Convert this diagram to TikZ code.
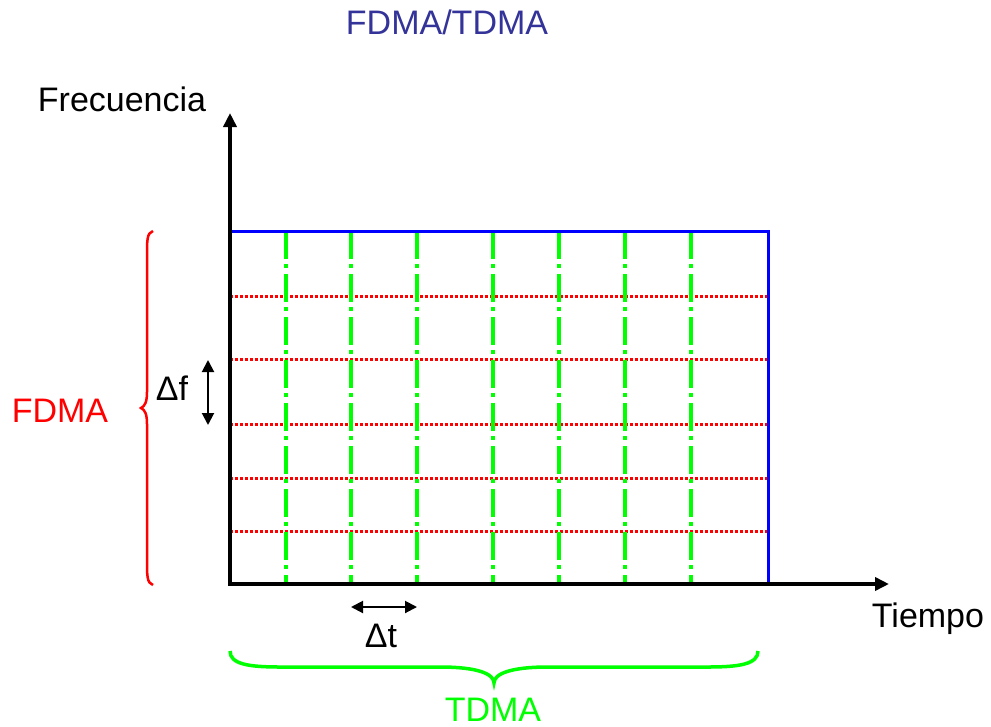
\documentclass[tikz,border=0pt]{standalone}
\usepackage{fontspec}
\setmainfont{Liberation Sans}
\usetikzlibrary{arrows.meta}
\definecolor{titleblue}{RGB}{51,51,153}
\definecolor{gridgreen}{RGB}{0,255,0}
\definecolor{gridred}{RGB}{255,0,0}
\definecolor{boxblue}{RGB}{0,0,255}
\tikzset{
  lbl/.style={inner sep=0pt, anchor=base, font=\fontsize{34}{40}\selectfont},
  axisline/.style={line width=4pt, -{Triangle[length=14pt,width=13pt]}},
  redgrid/.style={gridred, line width=3pt, dash pattern=on 3pt off 2pt},
  greengrid/.style={gridgreen, line width=3.5pt, dash pattern=on 28pt off 5pt on 4pt off 6pt},
  dimarrow/.style={line width=2pt, {Triangle[length=12pt,width=12pt]}-{Triangle[length=12pt,width=12pt]}},
}
\begin{document}
\begin{tikzpicture}[x=1pt,y=-1pt]
\useasboundingbox (0,0) rectangle (991,726);
% coordinates
\coordinate (O) at (230,584);
\coordinate (ytip) at (230,113);
\coordinate (xtip) at (889,584);
\coordinate (TL) at (230,231);
\coordinate (TR) at (768,231);
\coordinate (BR) at (768,584);
% red dotted horizontal lines
\foreach \y [count=\i] in {296,359,424,478,531}{
  \coordinate (hl\i) at (230,\y);
  \coordinate (hr\i) at (768,\y);
  \draw[redgrid] (hl\i) -- (hr\i);
}
% green dash-dot vertical lines
\foreach \x [count=\i] in {286,351,417,493,559,625,691}{
  \coordinate (vt\i) at (\x,231);
  \coordinate (vb\i) at (\x,584);
  \draw[greengrid] (vt\i) -- (vb\i);
}
% blue frame
\draw[boxblue, line width=3pt] (TL) -- (TR) -- (BR);
% axes
\draw[axisline] (O) -- (ytip);
\draw[axisline] (228,584) -- (xtip);
% red brace
\coordinate (rb1) at (153,231);
\coordinate (rb2) at (153,585);
\coordinate (rbt) at (141,408);
\draw[gridred, line width=2.5pt] (rb1) .. controls (147,233) and (147,240) .. (147,255)
  -- (147,392) .. controls (147,402) and (145,406) .. (rbt)
  .. controls (145,410) and (147,414) .. (147,424)
  -- (147,561) .. controls (147,576) and (147,583) .. (rb2);
% green brace
\coordinate (gb1) at (230,651);
\coordinate (gb2) at (758,651);
\coordinate (gbt) at (494,683);
\draw[gridgreen, line width=3.5pt] (gb1) .. controls (230,664) and (248,667) .. (280,667)
  -- (440,667) .. controls (478,667) and (494,674) .. (gbt)
  .. controls (494,674) and (510,667) .. (548,667)
  -- (708,667) .. controls (740,667) and (758,664) .. (gb2);
% delta arrows
\coordinate (dfa) at (208,360);
\coordinate (dfb) at (208,425);
\draw[dimarrow] (dfa) -- (dfb);
\coordinate (dta) at (351,607);
\coordinate (dtb) at (417,607);
\draw[dimarrow] (dta) -- (dtb);
% labels
\node[lbl, text=titleblue] (title) at (447,34) {FDMA/TDMA};
\node[lbl] (frec) at (122,111) {Frecuencia};
\node[lbl] (tiempo) at (928,627) {Tiempo};
\node[lbl, text=gridred] (fdma) at (60,422) {FDMA};
\node[lbl, text=gridgreen] (tdma) at (493,721) {TDMA};
\node[lbl] (df) at (172,400) {Δf};
\node[lbl] (dt) at (381,647) {Δt};
\end{tikzpicture}
\end{document}
